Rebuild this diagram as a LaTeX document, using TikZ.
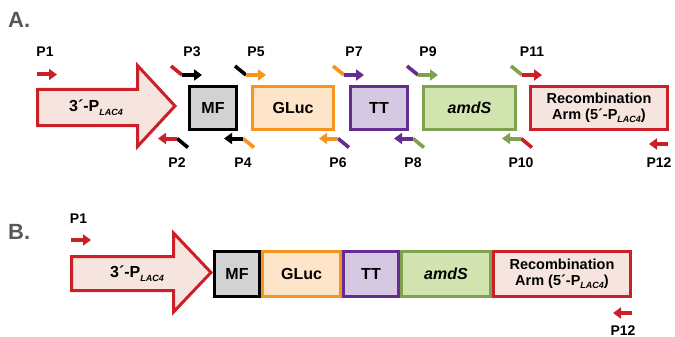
\documentclass[tikz,border=0pt]{standalone}
\usepackage{fontspec}
\setmainfont{Liberation Sans}
\usetikzlibrary{arrows.meta}

\definecolor{cred}{RGB}{204,32,41}
\definecolor{credfill}{RGB}{246,229,222}
\definecolor{cgreyfill}{RGB}{209,210,212}
\definecolor{corange}{RGB}{247,148,29}
\definecolor{corangefill}{RGB}{254,228,200}
\definecolor{cpurple}{RGB}{102,45,145}
\definecolor{cpurplefill}{RGB}{212,200,226}
\definecolor{cgreen}{RGB}{128,162,80}
\definecolor{cgreenfill}{RGB}{210,229,176}
\definecolor{cpanel}{RGB}{88,88,88}

% subscript of the promoter name
\newcommand\lacsub{\raisebox{-0.5ex}{\fontsize{9}{9}\selectfont\bfseries\itshape LAC4}}

\tikzset{
  genebox/.style={draw, line width=3.3pt, inner sep=0pt, outer sep=0pt,
    font=\fontsize{16}{16}\selectfont\bfseries, align=center},
  promoter/.style={draw=cred, fill=credfill, line width=3pt, line join=miter},
  promtext/.style={font=\fontsize{16}{16}\selectfont\bfseries, inner sep=0pt},
  primershaft/.style={line width=4pt, -{Triangle[length=8pt,width=11pt]}},
  primertail/.style={line width=3.6pt},
  primerlabel/.style={font=\fontsize{14}{14}\selectfont\bfseries, anchor=base, inner sep=0pt},
  panellabel/.style={font=\fontsize{22}{22}\selectfont\bfseries, text=cpanel, anchor=base west, inner sep=0pt},
}

% forward primer: name, junction x, y, tail colour, arrow colour, label
\newcommand\fwdprimer[6]{%
  \coordinate (#1a) at ({#2-11},{#3-9});
  \coordinate (#1b) at (#2,#3);
  \coordinate (#1c) at ({#2+20},#3);
  \draw[primertail,#4] (#1a) -- (#1b);
  \draw[primershaft,#5] (#1b) -- (#1c);
  \node[primerlabel] (#1) at ({#2+10},57) {#6};
}
% reverse primer: name, junction x, y, arrow colour, tail colour, label
\newcommand\revprimer[6]{%
  \coordinate (#1a) at ({#2+11},{#3+9});
  \coordinate (#1b) at (#2,#3);
  \coordinate (#1c) at ({#2-19},#3);
  \draw[primertail,#5] (#1a) -- (#1b);
  \draw[primershaft,#4] (#1b) -- (#1c);
  \node[primerlabel] (#1) at (#2,167) {#6};
}

\begin{document}
\begin{tikzpicture}[x=1pt,y=-1pt]
\useasboundingbox (0,0) rectangle (675,337);

% ---------------- panel A ----------------
\node[panellabel] (labA) at (8,28) {A.};

\draw[promoter] (37.5,89.5) -- (137.5,89.5) -- (137.5,65.5) -- (175,106)
  -- (137.5,146.5) -- (137.5,125.5) -- (37.5,125.5) -- cycle;
\node[promtext] (promA) at (96,107.5) {3´-P\lacsub};

\node[genebox, draw=black, fill=cgreyfill, minimum width=46.7pt, minimum height=42.7pt] (mfA) at (213,108) {MF};
\node[genebox, draw=corange, fill=corangefill, minimum width=80.7pt, minimum height=42.7pt] (glucA) at (293,108) {GLuc};
\node[genebox, draw=cpurple, fill=cpurplefill, minimum width=56.7pt, minimum height=42.7pt] (ttA) at (379,108) {TT};
\node[genebox, draw=cgreen, fill=cgreenfill, minimum width=91.7pt, minimum height=42.7pt] (amdsA) at (469.5,108) {\itshape amdS};
\node[genebox, draw=cred, fill=credfill, minimum width=136.7pt, minimum height=42.7pt,
  font=\fontsize{14.5}{15.5}\selectfont\bfseries] (recA) at (599,108) {Recombination\\Arm (5´-P\lacsub)};

% primers
\coordinate (p1b) at (37,74.5);
\coordinate (p1c) at (57,74.5);
\draw[primershaft,cred] (p1b) -- (p1c);
\node[primerlabel] (p1) at (45,57) {P1};

\fwdprimer{p3}{182}{75}{cred}{black}{P3}
\fwdprimer{p5}{246}{75}{black}{corange}{P5}
\fwdprimer{p7}{344}{75}{corange}{cpurple}{P7}
\fwdprimer{p9}{418}{75}{cpurple}{cgreen}{P9}
\fwdprimer{p11}{522}{75}{cgreen}{cred}{P11}

\revprimer{p2}{177}{138.5}{cred}{black}{P2}
\revprimer{p4}{243}{138.5}{black}{corange}{P4}
\revprimer{p6}{338}{138.5}{corange}{cpurple}{P6}
\revprimer{p8}{413}{138.5}{cpurple}{cgreen}{P8}
\revprimer{p10}{521}{138.5}{cgreen}{cred}{P10}

\coordinate (p12b) at (668,144);
\coordinate (p12c) at (649,144);
\draw[primershaft,cred] (p12b) -- (p12c);
\node[primerlabel] (p12) at (659,167) {P12};

% ---------------- panel B ----------------
\node[panellabel] (labB) at (8,239) {B.};

\draw[promoter] (71.5,256.5) -- (173.5,256.5) -- (173.5,233) -- (211,272.5)
  -- (173.5,312) -- (173.5,290.5) -- (71.5,290.5) -- cycle;
\node[promtext] (promB) at (137,274) {3´-P\lacsub};

\node[genebox, draw=black, fill=cgreyfill, minimum width=44.7pt, minimum height=44.7pt] (mfB) at (237,274) {MF};
\node[genebox, draw=corange, fill=corangefill, minimum width=77.7pt, minimum height=44.7pt] (glucB) at (301.5,274) {GLuc};
\node[genebox, draw=cpurple, fill=cpurplefill, minimum width=54.7pt, minimum height=44.7pt] (ttB) at (371,274) {TT};
\node[genebox, draw=cgreen, fill=cgreenfill, minimum width=88.7pt, minimum height=44.7pt] (amdsB) at (446,274) {\itshape amdS};
\node[genebox, draw=cred, fill=credfill, minimum width=136.7pt, minimum height=44.7pt,
  font=\fontsize{14.5}{15.5}\selectfont\bfseries] (recB) at (562,274) {Recombination\\Arm (5´-P\lacsub)};

\coordinate (q1b) at (71,240);
\coordinate (q1c) at (91,240);
\draw[primershaft,cred] (q1b) -- (q1c);
\node[primerlabel] (q1) at (78.5,223) {P1};

\coordinate (q12b) at (632,313);
\coordinate (q12c) at (613,313);
\draw[primershaft,cred] (q12b) -- (q12c);
\node[primerlabel] (q12) at (623,335.3) {P12};
\end{tikzpicture}
\end{document}
